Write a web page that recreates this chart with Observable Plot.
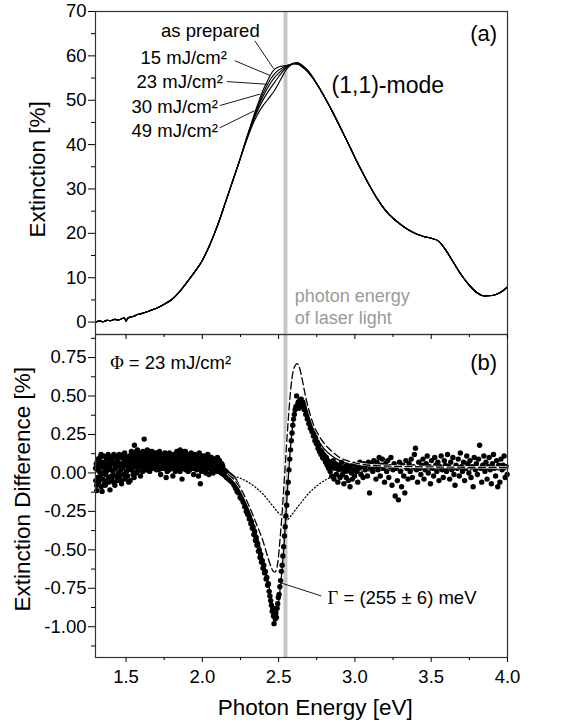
<!DOCTYPE html>
<html><head><meta charset="utf-8">
<script src="https://cdn.jsdelivr.net/npm/d3@7"></script>
<script src="https://cdn.jsdelivr.net/npm/@observablehq/plot@0.6"></script>
<style>
body{margin:0;background:#fff;}
#fig{position:relative;width:571px;height:725px;font-family:"Liberation Sans",Arial,sans-serif;}
#fig svg{position:absolute;left:0;overflow:visible;}
</style></head><body><div id="fig"></div>
<script>
// ---------- Panel (a): extinction spectra ----------
const energyLow = [1.300,1.325,1.350,1.375,1.400,1.425,1.450,1.475,1.490,1.500,1.510,1.525,1.550,1.575,1.600,1.650,1.700,1.750,1.800,1.850,1.900,1.950,2.000,2.050,2.100,2.150,2.200,2.250];
const extLow    = [0.0,0.2,0.1,0.4,0.3,0.6,0.5,0.8,0.9,0.2,0.8,1.1,1.3,1.7,1.9,2.5,3.1,4.0,5.1,6.8,9.0,11.3,13.9,17.5,21.8,26.8,31.9,37.0];
const energyPeak = [2.275,2.300,2.325,2.350,2.375,2.400,2.425,2.450,2.475,2.500,2.525,2.550,2.575,2.600,2.625,2.650,2.675,2.700];
const extAsPrepared = [39.9,42.6,45.2,47.8,50.2,52.4,54.2,55.9,57.0,57.5,57.7,57.8,58.0,58.2,58.1,57.6,56.9,56.0];
const ext15 = [39.8,42.4,45.0,47.4,49.7,51.7,53.4,54.9,56.0,56.8,57.3,57.7,58.0,58.3,58.2,57.7,57.0,56.1];
const ext23 = [39.7,42.3,44.8,47.1,49.2,51.0,52.6,54.0,55.2,56.1,56.9,57.5,58.0,58.3,58.3,57.8,57.1,56.2];
const ext30 = [39.6,42.1,44.5,46.7,48.6,50.2,51.6,52.9,54.1,55.3,56.4,57.3,57.9,58.3,58.4,57.9,57.2,56.3];
const ext49 = [39.5,41.9,44.1,46.0,47.6,48.9,50.0,51.1,52.3,53.8,55.4,56.9,57.8,58.3,58.5,58.0,57.3,56.4];
const energyHigh = [2.75,2.80,2.85,2.90,2.95,3.00,3.05,3.10,3.15,3.20,3.25,3.30,3.35,3.40,3.45,3.50,3.55,3.60,3.65,3.70,3.75,3.80,3.85,3.90,3.95,4.00];
const extHigh    = [53.7,50.8,47.6,44.2,40.7,37.1,33.7,30.5,27.6,25.2,23.4,22.0,20.8,19.9,19.3,18.9,18.2,16.0,13.2,10.5,8.3,6.6,5.9,6.0,6.6,7.9];
const doseNames = ["as prepared","15 mJ/cm²","23 mJ/cm²","30 mJ/cm²","49 mJ/cm²"];
const doseValues = [extAsPrepared, ext15, ext23, ext30, ext49];
const extTicks = [0,10,20,30,40,50,60,70];
const extMinor = [5,15,25,35,45,55,65];
const laserEnergy = 2.545;

// ---------- Panel (b): extinction difference ----------
const diffPoints = [
[1.302,-0.05],[1.305,0.06],[1.309,-0.115],[1.312,0.02],[1.315,-0.03],[1.318,0.08],[1.322,-0.06],[1.326,0.01],[1.329,0.10],[1.333,-0.02],
[1.337,-0.09],[1.340,0.04],[1.344,0.07],[1.348,-0.04],[1.352,0.11],[1.355,0.00],[1.359,-0.07],[1.363,0.05],[1.367,-0.01],[1.371,0.09],
[1.375,-0.05],[1.379,0.03],[1.383,0.12],[1.387,-0.03],[1.391,0.06],[1.395,-0.11],[1.399,0.02],[1.403,0.08],[1.407,-0.04],[1.411,0.10],
[1.415,0.01],[1.419,-0.06],[1.423,0.07],[1.427,0.03],[1.431,-0.02],[1.435,0.11],[1.439,0.05],[1.443,-0.05],[1.447,0.09],[1.451,0.00],
[1.455,0.12],[1.459,-0.03],[1.463,0.06],[1.467,0.02],[1.471,-0.07],[1.475,0.10],[1.479,0.04],[1.483,-0.01],[1.487,0.08],[1.491,0.13],
[1.495,-0.04],[1.499,0.05],[1.503,0.01],[1.507,0.09],[1.511,-0.02],[1.515,0.07],[1.519,0.03],[1.523,0.11],[1.527,-0.05],[1.531,0.06],
[1.535,0.14],[1.539,0.02],[1.543,0.08],[1.547,-0.01],[1.551,0.10],[1.555,0.18],[1.559,0.04],[1.563,0.12],[1.567,0.00],[1.571,0.07],
[1.575,0.15],[1.579,0.03],[1.583,0.09],[1.587,0.05],[1.591,0.13],[1.595,-0.02],[1.599,0.08],[1.603,0.11],[1.607,0.04],[1.611,0.14],
[1.615,0.06],[1.619,0.22],[1.623,0.09],[1.627,0.02],[1.631,0.12],[1.635,0.07],[1.639,0.15],[1.643,0.04],[1.647,0.10],[1.651,0.13],
[1.655,0.01],[1.659,0.08],[1.663,0.11],[1.667,0.05],[1.671,0.14],[1.675,0.07],[1.679,0.03],[1.683,0.12],[1.687,0.09],[1.691,0.06],
[1.695,0.13],[1.699,0.02],[1.703,0.10],[1.707,0.07],[1.711,0.11],[1.715,0.04],[1.719,0.14],[1.723,0.08],[1.727,-0.01],[1.731,0.09],
[1.735,0.12],[1.739,0.05],[1.743,0.10],[1.747,0.03],[1.751,0.08],[1.755,0.13],[1.759,0.06],[1.763,-0.03],[1.767,0.09],[1.771,0.04],
[1.775,0.11],[1.779,0.07],[1.783,0.02],[1.787,0.10],[1.791,0.05],[1.795,0.12],[1.799,0.08],[1.803,0.03],[1.807,-0.02],[1.811,0.09],
[1.815,0.06],[1.819,0.11],[1.823,0.01],[1.827,0.07],[1.831,0.10],[1.835,0.04],[1.839,0.08],[1.843,0.13],[1.847,0.02],[1.851,0.06],
[1.855,0.15],[1.859,0.09],[1.863,0.03],[1.867,-0.04],[1.871,0.07],[1.875,0.11],[1.879,0.05],[1.883,0.14],[1.887,0.08],[1.891,0.02],
[1.895,0.10],[1.899,0.06],[1.903,0.12],[1.907,0.01],[1.911,0.08],[1.915,0.04],[1.919,0.11],[1.923,0.07],[1.927,0.13],[1.931,0.03],
[1.935,0.09],[1.939,0.05],[1.943,-0.01],[1.947,0.08],[1.951,0.12],[1.955,0.04],[1.959,0.07],[1.963,0.02],[1.967,0.10],[1.971,0.06],
[1.975,-0.02],[1.979,0.09],[1.983,0.03],[1.987,-0.07],[1.991,0.07],[1.995,0.01],[1.999,0.11],[2.003,0.05],[2.007,0.02],[2.011,0.08],
[2.015,0.04],[2.019,0.10],[2.023,0.00],[2.027,0.06],[2.031,0.09],[2.035,0.03],[2.039,0.07],[2.043,-0.01],[2.047,0.05],[2.051,0.08],
[2.055,0.02],[2.059,0.10],[2.063,0.04],[2.067,0.07],[2.071,0.00],[2.075,0.09],[2.079,0.05],[2.083,0.02],[2.087,0.08],[2.091,0.04],
[2.095,0.07],[2.099,0.01],[2.103,0.09],[2.107,0.03],[2.111,0.06],[2.115,0.02],[2.119,0.04],[2.123,0.00],[2.127,0.03],[2.131,0.05],
[2.135,0.01],[2.139,-0.01],[2.143,0.02],[2.147,0.00],[2.151,-0.02],[2.155,0.01],[2.159,-0.03],[2.163,0.00],[2.167,-0.02],[2.171,-0.04],
[2.175,-0.01],[2.179,-0.03],[2.183,-0.05],[2.187,-0.02],[2.191,-0.04],[2.195,-0.06],[2.199,-0.03],
[1.301,0.03],[1.308,-0.08],[1.315,0.09],[1.322,0.05],[1.329,-0.04],[1.336,0.12],[1.343,-0.12],[1.350,0.06],[1.357,0.03],[1.364,-0.08],
[1.371,0.01],[1.378,0.08],[1.385,-0.06],[1.392,0.04],[1.399,0.10],[1.406,-0.02],[1.413,0.06],[1.420,0.12],[1.427,-0.08],[1.434,0.03],
[1.441,0.08],[1.448,-0.02],[1.455,0.05],[1.462,0.10],[1.469,-0.05],[1.476,0.03],[1.483,0.12],[1.490,0.06],[1.497,-0.02],[1.504,0.10],
[1.511,0.04],[1.518,-0.06],[1.525,0.08],[1.532,0.02],[1.539,0.12],[1.546,0.05],[1.553,-0.03],[1.560,0.09],[1.567,0.14],[1.574,0.01],
[1.581,0.07],[1.588,0.11],[1.595,0.04],[1.602,0.09],[1.609,0.01],[1.616,0.13],[1.623,0.05],[1.630,0.10],[1.637,0.02],[1.644,0.12],
[1.651,0.07],[1.658,0.14],[1.665,0.03],[1.672,0.09],[1.679,0.12],[1.686,0.04],[1.693,0.10],[1.700,0.07],[1.707,0.13],[1.714,0.02],
[1.721,0.09],[1.728,0.11],[1.735,0.03],[1.742,0.07],[1.749,0.12],[1.756,0.04],[1.763,0.10],[1.770,0.01],[1.777,0.08],[1.784,0.13],
[1.791,0.05],[1.798,0.10],[1.805,0.06],[1.812,0.12],[1.819,0.03],[1.826,0.09],[1.833,0.14],[1.840,0.05],[1.847,0.10],[1.854,0.01],
[1.861,0.07],[1.868,0.12],[1.875,0.03],[1.882,0.09],[1.889,0.14],[1.896,0.04],[1.903,0.08],[1.910,0.11],[1.917,0.02],[1.924,0.09],
[1.931,0.06],[1.938,0.12],[1.945,0.03],[1.952,0.07],[1.959,0.10],[1.966,0.04],[1.973,0.08],[1.980,0.13],[1.987,0.05],[1.994,0.02],
[2.001,0.09],[2.008,0.06],[2.015,0.11],[2.022,0.03],[2.029,0.08],[2.036,0.12],[2.043,0.04],[2.050,0.07],[2.057,0.10],[2.064,0.01],
[2.071,0.06],[2.078,0.09],[2.085,0.03],[2.092,0.07],[2.099,0.10],[2.106,0.04],[2.113,0.08],[2.120,0.02],[2.127,0.06],[2.134,0.04],
[2.203,-0.04],[2.208,-0.08],[2.213,-0.05],[2.218,-0.10],[2.223,-0.07],[2.228,-0.12],[2.233,-0.09],[2.238,-0.13],[2.243,-0.11],[2.248,-0.16],
[2.253,-0.13],[2.258,-0.17],[2.263,-0.15],[2.268,-0.19],[2.273,-0.18],[2.278,-0.22],[2.283,-0.20],[2.288,-0.25],[2.293,-0.23],[2.298,-0.27],
[2.303,-0.25],[2.308,-0.30],[2.313,-0.28],[2.318,-0.33],[2.323,-0.31],[2.328,-0.36],[2.333,-0.35],[2.338,-0.40],[2.343,-0.38],[2.348,-0.44],
[2.353,-0.42],[2.358,-0.47],[2.363,-0.46],[2.368,-0.51],[2.373,-0.50],[2.378,-0.55],[2.383,-0.53],[2.388,-0.58],[2.393,-0.57],[2.398,-0.62],
[2.403,-0.60],[2.408,-0.65],[2.413,-0.64],[2.418,-0.69],[2.423,-0.68],[2.428,-0.73],[2.433,-0.72],[2.438,-0.77],[2.443,-0.80],[2.448,-0.83],
[2.453,-0.86],[2.458,-0.90],[2.462,-0.88],[2.466,-0.93],[2.470,-0.98],[2.474,-0.92],[2.478,-0.95],[2.482,-0.91],[2.486,-0.94],[2.490,-0.88],
[2.494,-0.85],[2.498,-0.81],[2.503,-0.79],[2.508,-0.74],[2.513,-0.70],[2.518,-0.64],[2.523,-0.60],[2.528,-0.54],[2.533,-0.48],[2.538,-0.41],
[2.543,-0.35],[2.548,-0.28],[2.553,-0.21],[2.558,-0.13],[2.563,-0.06],[2.568,0.02],[2.573,0.09],[2.578,0.15],[2.583,0.21],[2.588,0.26],
[2.593,0.31],[2.598,0.35],[2.603,0.38],[2.608,0.41],[2.613,0.43],[2.618,0.50],[2.623,0.44],[2.628,0.46],[2.633,0.42],[2.638,0.47],
[2.643,0.44],[2.648,0.48],[2.653,0.45],[2.658,0.43],[2.663,0.46],[2.668,0.41],[2.673,0.43],[2.678,0.38],[2.683,0.40],[2.688,0.35],
[2.693,0.37],[2.698,0.32],[2.703,0.34],[2.708,0.29],[2.713,0.31],[2.718,0.27],[2.723,0.28],[2.728,0.24],[2.733,0.26],[2.738,0.21],
[2.743,0.23],[2.748,0.19],[2.753,0.20],[2.758,0.16],[2.763,0.18],[2.768,0.14],[2.773,0.15],[2.778,0.12],[2.783,0.14],[2.788,0.10],
[2.793,0.12],[2.798,0.09],[2.803,0.11],[2.808,0.07],[2.813,0.10],[2.818,0.05],[2.823,0.08],[2.828,0.03],[2.833,0.07],[2.838,0.01],
[2.843,0.06],[2.848,-0.02],[2.853,0.04],[2.858,0.08],[2.863,-0.04],[2.868,0.03],[2.873,0.06],[2.878,-0.01],[2.883,0.04],[2.888,-0.06],
[2.893,0.02],[2.898,0.05],[2.903,-0.03],[2.908,0.03],[2.913,0.07],[2.918,-0.01],[2.923,0.02],[2.928,-0.07],[2.933,0.04],[2.938,0.01],
[2.943,-0.03],[2.948,0.05],[2.953,0.02],[2.958,-0.05],[2.963,0.03],[2.968,-0.09],[2.973,0.04],[2.978,0.00],[2.983,-0.04],[2.988,0.06],
[2.993,0.02],[2.998,-0.02],[3.005,0.05],[3.012,0.01],[3.019,-0.06],[3.026,0.03],[3.033,0.07],[3.040,-0.01],[3.047,0.04],[3.054,-0.03],
[3.061,0.06],[3.068,0.02],[3.075,0.05],[3.082,-0.02],[3.089,0.07],[3.096,-0.13],[3.103,0.03],[3.110,0.06],
[3.117,0.01],[3.124,0.08],[3.131,0.04],[3.138,-0.04],[3.145,0.07],[3.152,0.02],[3.159,0.10],[3.166,-0.02],[3.173,0.05],[3.180,0.09],
[3.187,0.03],[3.194,-0.06],[3.201,0.06],[3.208,0.01],[3.215,0.08],[3.222,-0.03],[3.229,0.04],[3.236,0.10],[3.243,-0.08],[3.250,0.02],
[3.257,0.06],[3.264,-0.15],[3.271,0.03],[3.278,-0.05],[3.285,-0.175],[3.292,0.07],[3.299,0.01],[3.306,-0.09],[3.313,0.05],[3.320,-0.02],
[3.327,-0.13],[3.334,0.08],[3.341,0.03],[3.348,-0.04],[3.355,0.06],[3.362,0.01],[3.369,0.09],[3.376,-0.03],[3.383,0.04],[3.390,0.12],
[3.397,0.16],[3.404,0.02],[3.411,-0.06],[3.418,0.07],[3.425,0.03],[3.432,-0.01],[3.439,0.05],[3.446,0.09],[3.453,-0.04],[3.460,0.02],
[3.467,0.06],[3.474,0.11],[3.481,0.00],[3.488,0.04],[3.495,-0.07],[3.502,0.08],[3.509,0.03],[3.516,-0.02],[3.523,0.10],[3.530,0.05],
[3.537,0.01],[3.544,0.07],[3.551,-0.05],[3.558,0.04],[3.565,0.11],[3.572,0.02],[3.579,-0.03],[3.586,0.08],[3.593,0.05],[3.600,0.01],
[3.607,0.12],[3.614,0.04],[3.621,-0.04],[3.628,0.07],[3.635,0.02],[3.642,0.10],[3.649,-0.01],[3.656,-0.08],[3.663,0.05],[3.670,0.03],
[3.677,0.09],[3.684,-0.02],[3.691,0.13],[3.698,0.04],[3.705,0.01],[3.712,0.07],[3.719,-0.05],[3.726,0.03],[3.733,0.11],[3.740,0.06],
[3.747,0.00],[3.754,0.08],[3.761,-0.03],[3.768,0.04],[3.775,-0.09],[3.782,0.10],[3.789,0.02],[3.796,0.06],[3.803,-0.01],[3.810,0.09],
[3.817,0.18],[3.824,0.03],[3.831,-0.06],[3.838,0.05],[3.845,0.11],[3.852,0.01],[3.859,0.07],[3.866,-0.04],[3.873,0.04],[3.880,0.10],
[3.887,0.02],[3.894,-0.07],[3.901,0.06],[3.908,0.12],[3.915,0.03],[3.922,-0.02],[3.929,0.08],[3.936,-0.09],[3.943,0.05],[3.950,-0.06],
[3.957,0.09],[3.964,0.02],[3.971,0.05],[3.978,0.11],[3.985,-0.03],[3.992,0.04],[3.998,-0.01]
];
const fitTotal = [[2.15,0.0],[2.20,-0.04],[2.25,-0.12],[2.30,-0.23],[2.35,-0.38],[2.40,-0.57],[2.43,-0.70],[2.45,-0.81],[2.465,-0.89],[2.475,-0.93],[2.485,-0.93],[2.495,-0.88],[2.505,-0.80],[2.515,-0.71],[2.53,-0.54],[2.545,-0.32],[2.56,-0.08],[2.575,0.13],[2.59,0.29],[2.605,0.39],[2.62,0.45],[2.635,0.47],[2.65,0.465],[2.67,0.43],[2.69,0.38],[2.71,0.32],[2.73,0.27],[2.76,0.21],[2.80,0.155],[2.85,0.11],[2.90,0.08],[2.95,0.06],[3.00,0.05],[3.10,0.04],[3.30,0.035],[3.60,0.032],[4.00,0.03]];
const fitDashed = [[2.17,-0.01],[2.20,-0.035],[2.25,-0.10],[2.30,-0.20],[2.35,-0.32],[2.40,-0.45],[2.43,-0.55],[2.45,-0.61],[2.465,-0.64],[2.475,-0.645],[2.485,-0.63],[2.495,-0.58],[2.505,-0.48],[2.52,-0.30],[2.535,-0.08],[2.55,0.15],[2.565,0.37],[2.58,0.55],[2.595,0.66],[2.61,0.70],[2.62,0.71],[2.635,0.69],[2.65,0.63],[2.67,0.53],[2.69,0.44],[2.71,0.37],[2.73,0.31],[2.76,0.25],[2.80,0.19],[2.85,0.14],[2.90,0.10],[2.95,0.08],[3.00,0.065],[3.10,0.05],[3.30,0.042],[3.60,0.038],[4.00,0.035]];
const fitDotted = [[2.12,0.0],[2.15,-0.005],[2.20,-0.02],[2.25,-0.035],[2.30,-0.06],[2.35,-0.095],[2.40,-0.14],[2.45,-0.20],[2.50,-0.26],[2.53,-0.285],[2.555,-0.305],[2.58,-0.28],[2.61,-0.24],[2.65,-0.19],[2.70,-0.13],[2.75,-0.085],[2.80,-0.05],[2.85,-0.025],[2.90,-0.01],[2.95,0.0],[3.00,0.008],[3.10,0.014],[3.30,0.018],[4.00,0.02]];
const diffTicks = [-1,-0.75,-0.5,-0.25,0,0.25,0.5,0.75];
const diffMinor = [-1.125,-0.875,-0.625,-0.375,-0.125,0.125,0.375,0.625,0.875];
const energyTicks = [1.5,2.0,2.5,3.0,3.5,4.0];
const energyMinor = [1.75,2.25,2.75,3.25,3.75];

// ---------- annotations (data units) ----------
const doseLabelAt = [[2.376,65.7],[2.161,59.6],[2.135,54.2],[2.102,48.5],[2.102,43.1]];
const doseLeaders = [[2.344,63.4,2.468,57.1],[2.213,58.9,2.442,55.6],[2.161,54.2,2.425,53.6],[2.115,48.8,2.380,51.4],[2.115,43.8,2.340,47.6]];

const FONT = "Liberation Sans, Arial, Helvetica, sans-serif";
const W = 571, ML = 95, MR = 64;
const xDomain = [1.3, 4.0];

const rowsA = [];
doseNames.forEach((name, k) => {
  energyLow.forEach((x, i) => rowsA.push({name, x, y: extLow[i]}));
  energyPeak.forEach((x, i) => rowsA.push({name, x, y: doseValues[k][i]}));
  energyHigh.forEach((x, i) => rowsA.push({name, x, y: extHigh[i]}));
});

const plotA = Plot.plot({
  width: W, height: 340, marginLeft: ML, marginRight: MR, marginTop: 11, marginBottom: 6,
  x: {domain: xDomain}, y: {domain: [-2.8, 70]},
  style: {background: "transparent", fontFamily: FONT, overflow: "visible", color: "#000"},
  marks: [
    Plot.ruleX([laserEnergy], {stroke: "#c6c6c6", strokeWidth: 4}),
    Plot.line(rowsA, {x: "x", y: "y", z: "name", stroke: "#000", strokeWidth: 1.15, curve: "monotone-x"}),
    Plot.frame({stroke: "#333", strokeWidth: 1.2}),
    Plot.axisY(extTicks, {tickSize: 7, tickPadding: 2, fontSize: 18.5, tickFormat: d => String(d), label: null}),
    Plot.axisY(extMinor, {tickSize: 4, tickFormat: () => "", label: null}),
    Plot.axisX(energyTicks, {anchor: "bottom", tickSize: 5, tickFormat: () => "", label: null}),
    Plot.axisX(energyMinor, {anchor: "bottom", tickSize: 3, tickFormat: () => "", label: null}),
    Plot.link(doseLeaders, {x1: d => d[0], y1: d => d[1], x2: d => d[2], y2: d => d[3], stroke: "#000", strokeWidth: 0.9}),
    Plot.text(doseNames, {text: d => d, x: (d, i) => doseLabelAt[i][0], y: (d, i) => doseLabelAt[i][1], textAnchor: "end", fontSize: 18.5, fill: "#000"}),
    Plot.text(["(1,1)-mode"], {text: d => d, x: () => 2.847, y: () => 53.3, textAnchor: "start", fontSize: 23}),
    Plot.text(["(a)"], {text: d => d, x: () => 3.932, y: () => 65.0, textAnchor: "end", fontSize: 22}),
    Plot.text(["photon energy\nof laser light"], {text: d => d, x: () => 2.605, y: () => 8.1, textAnchor: "start", lineAnchor: "top", lineHeight: 1.22, fontSize: 18, fill: "#9a9a9a"}),
    Plot.text(["Extinction [%]"], {text: d => d, frameAnchor: "left", y: () => 34.4, dx: -58, rotate: -90, textAnchor: "middle", lineAnchor: "middle", fontSize: 22.5})
  ]
});

const plotB = Plot.plot({
  width: W, height: 401, marginLeft: ML, marginRight: MR, marginTop: 10, marginBottom: 68,
  x: {domain: xDomain}, y: {domain: [-1.2, 0.9]},
  style: {background: "transparent", fontFamily: FONT, overflow: "visible", color: "#000"},
  marks: [
    Plot.ruleX([laserEnergy], {stroke: "#c6c6c6", strokeWidth: 4}),
    Plot.dot(diffPoints, {x: d => d[0], y: d => d[1], r: 2.7, fill: "#000", stroke: null}),
    Plot.line(fitDotted, {x: d => d[0], y: d => d[1], stroke: "#000", strokeWidth: 1.3, strokeDasharray: "1,2.4", curve: "monotone-x"}),
    Plot.line(fitTotal, {x: d => d[0], y: d => d[1], stroke: "#000", strokeWidth: 1.3, curve: "monotone-x"}),
    Plot.line(fitDashed, {x: d => d[0], y: d => d[1], stroke: "#fff", strokeWidth: 2.4, curve: "monotone-x"}),
    Plot.line(fitDashed, {x: d => d[0], y: d => d[1], stroke: "#000", strokeWidth: 1.3, strokeDasharray: "7,3.5", curve: "monotone-x"}),
    Plot.frame({stroke: "#333", strokeWidth: 1.2}),
    Plot.axisY(diffTicks, {tickSize: 7, tickPadding: 2, fontSize: 18.5, tickFormat: d => d.toFixed(2), label: null}),
    Plot.axisY(diffMinor, {tickSize: 4, tickFormat: () => "", label: null}),
    Plot.axisX(energyTicks, {anchor: "bottom", tickSize: 5, tickPadding: 7, fontSize: 18.5, tickFormat: d => d.toFixed(1), label: null}),
    Plot.axisX(energyMinor, {anchor: "bottom", tickSize: 3, tickFormat: () => "", label: null}),
    Plot.link([[2.780, -0.80, 2.515, -0.715]], {x1: d => d[0], y1: d => d[1], x2: d => d[2], y2: d => d[3], stroke: "#000", strokeWidth: 0.9}),
    Plot.text(["Γ = (255 ± 6) meV"], {text: d => d, x: () => 2.821, y: () => -0.813, textAnchor: "start", fontSize: 18.5}),
    Plot.text(["Φ = 23 mJ/cm²"], {text: d => d, x: () => 1.396, y: () => 0.713, textAnchor: "start", fontSize: 18.5}),
    Plot.text(["(b)"], {text: d => d, x: () => 3.932, y: () => 0.713, textAnchor: "end", fontSize: 22}),
    Plot.text(["Extinction Difference [%]"], {text: d => d, frameAnchor: "left", y: () => -0.106, dx: -73, rotate: -90, textAnchor: "middle", lineAnchor: "middle", fontSize: 22.5}),
    Plot.text(["Photon Energy [eV]"], {text: d => d, frameAnchor: "bottom", x: () => 2.74, dy: 50, textAnchor: "middle", lineAnchor: "middle", fontSize: 22.5})
  ]
});

// Greek symbols in a serif face, as in the original figure
const NS = "http://www.w3.org/2000/svg";
plotB.querySelectorAll("text").forEach(t => {
  const s = t.textContent;
  if ((s.startsWith("Φ") || s.startsWith("Γ")) && t.children.length === 0) {
    t.textContent = "";
    const g = document.createElementNS(NS, "tspan");
    g.setAttribute("font-family", "Liberation Serif, DejaVu Serif, serif");
    g.textContent = s[0];
    const r = document.createElementNS(NS, "tspan");
    r.textContent = s.slice(1);
    t.append(g, r);
  }
});

const fig = document.getElementById("fig");
plotB.style.top = "324px";
plotA.style.top = "0px";
fig.append(plotB, plotA);
</script></body></html>
